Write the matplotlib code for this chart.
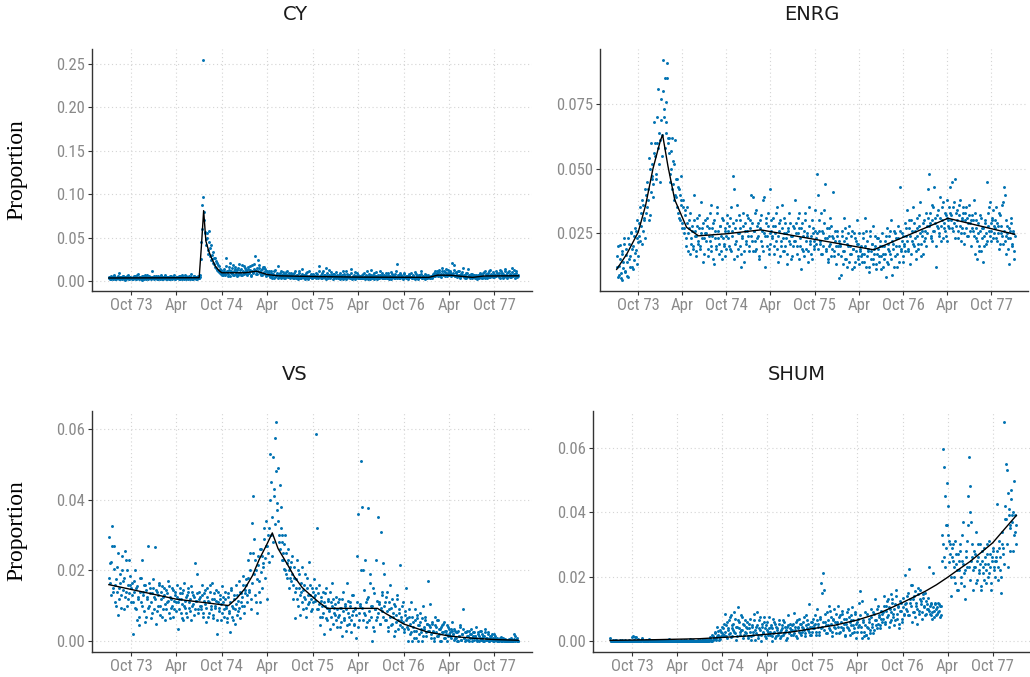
import matplotlib
matplotlib.use('Agg')
import matplotlib.pyplot as plt
from matplotlib import font_manager
import pandas as pd

# readings every 4 days, two interleaved runs (a starts 4 Jul 73, b two days later),
# values in units of 1e-4, one line per quarter
first_day_a = '1973-07-04'
first_day_b = '1973-07-06'
step = '4D'
scale = 1e-4

cy_values_a = [
    42, 28, 55, 31, 18, 67, 39, 25, 48, 33, 90, 22, 41, 36, 58, 27, 15, 46, 38, 72, 29, 51, 34,
    26, 47, 39, 61, 22, 35, 80, 44, 30, 19, 53, 37, 28, 65, 41, 33, 24, 58, 46, 31, 110, 38, 27,
    49, 35, 22, 62, 40, 29, 54, 33, 18, 45, 71, 36, 27, 50, 39, 24, 58, 31, 43, 66, 28, 37, 52,
    34, 57, 25, 41, 73, 30, 46, 21, 38, 62, 44, 29, 51, 36, 85, 27, 40, 55, 33, 48, 26, 59, 37,
    70, 450, 880, 2540, 700, 560, 480, 550, 360, 570, 290, 420, 250, 330, 200, 260, 150, 210, 120, 170, 90, 130, 75,
    95, 140, 70, 260, 110, 85, 165, 60, 120, 90, 180, 75, 135, 100, 55, 150, 88, 125, 70, 190, 105, 80, 145,
    110, 75, 160, 95, 130, 60, 180, 100, 140, 290, 120, 85, 240, 150, 105, 70, 135, 95, 160, 80, 115, 65, 100,
    70, 45, 110, 60, 85, 35, 130, 55, 75, 170, 50, 90, 40, 65, 100, 30, 80, 55, 120, 45, 70, 60, 95,
    50, 80, 30, 115, 45, 65, 25, 90, 55, 40, 135, 60, 35, 75, 50, 100, 28, 62, 45, 85, 38, 70, 55,
    45, 90, 60, 30, 170, 55, 75, 40, 110, 50, 65, 25, 95, 45, 130, 35, 70, 55, 85, 30, 60, 100, 48,
    40, 75, 25, 60, 45, 120, 35, 55, 20, 85, 42, 65, 30, 135, 50, 38, 70, 28, 55, 95, 40, 62, 33,
    55, 30, 80, 45, 25, 65, 110, 40, 58, 22, 75, 48, 35, 90, 42, 60, 28, 70, 38, 120, 45, 32, 65,
    48, 70, 30, 55, 40, 95, 35, 62, 25, 80, 45, 58, 38, 110, 200, 42, 65, 30, 72, 50, 35, 88, 44,
    38, 60, 28, 85, 45, 52, 30, 70, 40, 100, 35, 55, 25, 65, 42, 80, 33, 58, 45, 28, 72, 38, 50,
    42, 35, 60, 48, 85, 55, 110, 70, 95, 60, 130, 75, 50, 120, 85, 65, 100, 140, 58, 90, 72, 115, 80,
    210, 75, 180, 60, 95, 50, 120, 70, 40, 85, 105, 55, 65, 35, 90, 48, 140, 60, 42, 78, 30, 55, 70,
    40, 65, 28, 55, 35, 80, 45, 30, 95, 50, 120, 60, 38, 75, 110, 48, 85, 55, 100, 42, 70, 58, 90,
    65, 95, 40, 110, 55, 80, 45, 120, 70, 35, 100, 60, 85, 50, 150, 75, 130, 40, 90, 60, 55,
]
cy_values_b = [
    36, 52, 24, 45, 30, 61, 20, 40, 33, 57, 26, 48, 37, 19, 63, 31, 44, 28, 53, 35, 23, 47, 39,
    33, 21, 56, 41, 29, 68, 36, 25, 49, 38, 17, 60, 32, 45, 27, 74, 39, 30, 51, 22, 43, 35, 62,
    30, 57, 41, 26, 48, 35, 69, 23, 42, 37, 55, 29, 46, 33, 20, 61, 40, 27, 50, 36, 24, 44, 31,
    45, 26, 60, 38, 22, 50, 35, 68, 29, 43, 33, 55, 24, 47, 39, 28, 62, 36, 21, 52, 41, 30, 46,
    250, 600, 970, 800, 550, 420, 500, 310, 450, 380, 240, 300, 210, 270, 160, 230, 130, 180, 100, 140, 80, 115, 65,
    120, 80, 175, 100, 60, 130, 210, 90, 150, 70, 110, 160, 85, 125, 65, 200, 95, 140, 75, 115, 170, 90, 130,
    85, 140, 100, 170, 65, 120, 95, 200, 125, 80, 150, 110, 185, 90, 130, 75, 160, 100, 140, 60, 120, 90, 110,
    55, 90, 40, 75, 120, 50, 65, 95, 35, 80, 60, 110, 45, 70, 55, 85, 40, 100, 65, 50, 90, 35, 75,
    65, 40, 95, 55, 30, 75, 50, 110, 35, 60, 85, 45, 70, 25, 90, 55, 40, 120, 50, 65, 30, 80, 45,
    55, 35, 80, 45, 120, 60, 30, 95, 50, 70, 40, 150, 55, 35, 75, 45, 100, 60, 28, 85, 50, 40, 70,
    50, 30, 95, 40, 65, 25, 80, 45, 110, 35, 55, 70, 40, 90, 28, 60, 45, 100, 35, 50, 75, 30, 58,
    40, 70, 30, 95, 50, 35, 60, 25, 85, 45, 130, 35, 65, 28, 55, 100, 40, 50, 30, 75, 45, 90, 38,
    35, 58, 90, 40, 75, 28, 50, 100, 45, 65, 30, 85, 52, 40, 70, 35, 95, 48, 60, 25, 80, 42, 55,
    50, 35, 75, 42, 95, 30, 60, 48, 25, 80, 55, 38, 70, 45, 110, 30, 62, 40, 85, 50, 35, 65, 45,
    30, 55, 40, 70, 95, 60, 80, 120, 65, 100, 55, 85, 150, 70, 110, 60, 90, 75, 125, 65, 100, 55, 85,
    90, 130, 55, 100, 75, 60, 110, 45, 80, 65, 150, 50, 70, 40, 95, 55, 75, 35, 60, 85, 45, 70, 50,
    55, 30, 75, 45, 90, 60, 35, 70, 50, 105, 40, 80, 55, 95, 45, 125, 65, 75, 50, 85, 60, 110, 70,
    80, 50, 125, 65, 95, 40, 75, 140, 55, 90, 60, 115, 45, 70, 100, 55, 85, 65, 120, 50, 75,
]

enrg_values_a = [
    160, 80, 125, 205, 95, 70, 180, 140, 210, 105, 165, 85, 230, 150, 120, 255, 190, 110, 240, 175, 260, 130, 215,
    290, 220, 330, 380, 260, 310, 230, 400, 350, 420, 300, 500, 410, 470, 520, 440, 680, 550, 460, 600, 810, 520, 610,
    770, 550, 920, 730, 850, 640, 910, 600, 620, 480, 570, 420, 530, 380, 610, 460, 350, 430, 310, 400, 470, 360, 290,
    380, 250, 340, 230, 290, 180, 270, 330, 210, 260, 190, 300, 240, 160, 280, 220, 320, 200, 250, 270, 140, 230, 300,
    250, 310, 190, 270, 220, 360, 180, 240, 290, 130, 260, 200, 330, 230, 170, 280, 240, 150, 300, 210, 260, 190, 320,
    230, 280, 190, 350, 260, 470, 420, 210, 300, 160, 250, 320, 200, 270, 120, 240, 330, 180, 290, 220, 260, 310, 200,
    300, 400, 220, 390, 260, 180, 340, 230, 290, 150, 270, 320, 200, 380, 250, 120, 310, 240, 280, 190, 420, 210, 260,
    240, 310, 170, 280, 220, 350, 140, 260, 300, 200, 360, 230, 180, 290, 250, 130, 270, 330, 210, 240, 160, 280, 220,
    380, 250, 200, 310, 150, 270, 230, 110, 290, 180, 260, 330, 190, 240, 140, 280, 220, 170, 300, 250, 200, 340, 230,
    480, 400, 260, 210, 330, 170, 250, 290, 440, 190, 230, 140, 270, 200, 310, 160, 240, 410, 180, 220, 130, 260, 200,
    75, 210, 90, 260, 180, 310, 150, 230, 120, 200, 280, 170, 240, 110, 190, 250, 140, 220, 300, 160, 210, 130, 180,
    200, 140, 250, 170, 310, 120, 220, 180, 100, 260, 150, 210, 130, 190, 240, 110, 170, 230, 140, 200, 160, 250, 120,
    150, 220, 80, 270, 190, 130, 240, 170, 300, 90, 210, 260, 160, 230, 120, 280, 200, 430, 180, 250, 140, 210, 290,
    240, 340, 180, 270, 130, 300, 220, 350, 200, 260, 150, 310, 240, 190, 280, 370, 210, 260, 170, 300, 230, 330, 250,
    420, 480, 290, 230, 360, 260, 430, 310, 120, 280, 340, 250, 390, 220, 300, 370, 270, 330, 240, 310, 380, 280, 350,
    430, 300, 450, 260, 370, 460, 280, 340, 230, 320, 380, 250, 300, 350, 210, 330, 270, 310, 240, 360, 290, 200, 320,
    260, 380, 170, 230, 300, 150, 250, 200, 320, 180, 270, 140, 240, 290, 210, 450, 330, 260, 370, 220, 300, 340, 250,
    300, 350, 220, 280, 190, 320, 250, 360, 210, 430, 400, 240, 170, 280, 230, 130, 260, 310, 200, 250, 180,
]
enrg_values_b = [
    120, 200, 90, 150, 75, 170, 115, 230, 100, 190, 140, 80, 210, 160, 250, 120, 200, 145, 270, 185, 230, 300, 160,
    240, 350, 280, 210, 360, 300, 420, 330, 450, 380, 540, 320, 600, 460, 390, 560, 600, 480, 700, 580, 640, 450, 690,
    630, 800, 700, 580, 760, 680, 850, 620, 560, 450, 500, 620, 440, 520, 400, 390, 460, 330, 420, 300, 380, 270, 350,
    270, 320, 200, 350, 250, 300, 170, 230, 280, 200, 400, 260, 180, 240, 310, 210, 270, 190, 370, 230, 290, 170, 250,
    220, 280, 160, 240, 330, 200, 270, 150, 300, 230, 190, 350, 260, 210, 280, 180, 310, 230, 200, 270, 160, 240, 290,
    260, 200, 310, 180, 240, 290, 150, 270, 220, 360, 190, 250, 300, 170, 230, 280, 140, 260, 210, 320, 240, 180, 270,
    240, 290, 180, 260, 220, 330, 190, 280, 240, 160, 300, 220, 260, 180, 390, 240, 290, 200, 330, 170, 250, 300, 230,
    280, 200, 250, 330, 190, 240, 290, 160, 220, 270, 180, 250, 310, 200, 230, 170, 260, 220, 290, 150, 240, 200, 270,
    220, 290, 170, 250, 330, 200, 270, 190, 240, 160, 300, 220, 250, 180, 350, 210, 240, 150, 270, 220, 190, 260, 210,
    250, 190, 300, 220, 170, 260, 200, 340, 230, 180, 270, 150, 240, 210, 280, 190, 230, 160, 260, 200, 240, 170, 220,
    200, 160, 240, 130, 220, 180, 270, 150, 210, 250, 140, 200, 170, 260, 190, 120, 230, 180, 210, 150, 250, 190, 160,
    170, 230, 140, 200, 260, 160, 190, 120, 240, 180, 210, 150, 280, 170, 200, 130, 230, 190, 160, 220, 110, 200, 170,
    200, 170, 240, 140, 210, 180, 260, 150, 220, 190, 120, 250, 200, 170, 230, 140, 260, 190, 220, 160, 240, 200, 180,
    270, 220, 190, 300, 240, 170, 260, 210, 290, 230, 180, 270, 210, 320, 250, 160, 240, 290, 220, 260, 200, 280, 310,
    280, 330, 240, 300, 220, 350, 260, 290, 200, 320, 270, 240, 310, 280, 350, 230, 290, 260, 320, 220, 300, 270, 330,
    320, 270, 350, 290, 230, 330, 300, 260, 360, 280, 220, 310, 270, 330, 250, 300, 350, 240, 290, 320, 260, 300, 270,
    300, 240, 330, 270, 220, 290, 180, 260, 310, 230, 270, 200, 300, 250, 220, 280, 350, 240, 290, 260, 310, 230, 280,
    270, 230, 290, 250, 330, 210, 280, 240, 370, 260, 220, 300, 250, 190, 270, 230, 290, 210, 260, 150, 240,
]

vs_values_a = [
    295, 165, 225, 325, 140, 270, 160, 100, 210, 75, 150, 190, 130, 240, 170, 90, 255, 140, 200, 120, 230, 160, 110,
    130, 20, 170, 95, 150, 60, 120, 45, 180, 110, 230, 140, 85, 160, 70, 125, 270, 100, 150, 65, 135, 175, 90,
    265, 50, 140, 100, 165, 75, 120, 155, 90, 130, 60, 145, 110, 170, 80, 125, 95, 150, 70, 115, 140, 85, 160,
    35, 120, 150, 80, 105, 135, 60, 165, 95, 125, 70, 140, 110, 85, 155, 100, 130, 75, 220, 115, 190, 90, 140,
    125, 90, 160, 70, 135, 105, 55, 150, 115, 80, 140, 100, 165, 65, 120, 95, 145, 20, 110, 85, 130, 60, 155,
    110, 70, 140, 95, 55, 125, 85, 25, 150, 100, 60, 130, 90, 160, 75, 115, 170, 65, 135, 100, 185, 80, 145,
    160, 110, 230, 140, 250, 90, 335, 410, 290, 130, 200, 80, 240, 170, 110, 260, 150, 220, 320, 180, 270, 120, 250,
    320, 530, 450, 240, 520, 430, 575, 620, 370, 490, 280, 440, 380, 300, 230, 275, 200, 250, 180, 230, 150, 210, 170,
    240, 120, 180, 65, 150, 230, 100, 190, 75, 140, 210, 90, 160, 120, 70, 180, 105, 225, 130, 85, 150, 110, 175,
    130, 585, 320, 90, 160, 45, 115, 70, 140, 20, 100, 150, 60, 120, 85, 35, 110, 165, 50, 95, 75, 125, 40,
    70, 120, 40, 95, 15, 140, 60, 100, 30, 165, 80, 50, 110, 25, 75, 130, 45, 90, 10, 240, 360, 60, 105,
    510, 380, 200, 80, 230, 40, 120, 375, 60, 190, 100, 0, 150, 30, 90, 230, 70, 350, 110, 50, 310, 140, 85,
    220, 190, 110, 60, 140, 30, 90, 160, 45, 120, 70, 15, 100, 55, 130, 35, 80, 215, 60, 40, 110, 25, 75,
    150, 40, 0, 70, 20, 110, 0, 55, 30, 90, 10, 65, 0, 45, 80, 25, 0, 100, 35, 60, 15, 50, 170,
    30, 105, 10, 50, 25, 0, 70, 40, 15, 60, 20, 35, 0, 45, 25, 55, 10, 30, 0, 40, 20, 15, 35,
    55, 20, 5, 30, 10, 25, 0, 15, 40, 5, 20, 90, 10, 0, 25, 15, 5, 30, 10, 20, 0, 15, 25,
    15, 40, 5, 20, 0, 10, 30, 5, 15, 0, 25, 10, 5, 20, 0, 10, 15, 5, 0, 20, 10, 5, 0,
    5, 0, 10, 2, 0, 8, 3, 0, 5, 1, 0, 6, 2, 0, 4, 0, 20, 15, 3, 8, 0,
]
vs_values_b = [
    180, 220, 130, 270, 150, 205, 110, 175, 140, 250, 120, 165, 95, 200, 145, 180, 125, 230, 100, 160, 135, 185, 150,
    165, 110, 140, 200, 90, 155, 125, 70, 140, 180, 100, 130, 160, 55, 145, 120, 95, 165, 135, 110, 80, 150, 125,
    120, 145, 85, 130, 160, 100, 140, 70, 125, 150, 105, 90, 135, 115, 155, 65, 120, 100, 145, 90, 130, 110, 125,
    110, 90, 135, 120, 65, 145, 100, 115, 80, 130, 150, 95, 120, 60, 140, 105, 125, 90, 115, 135, 80, 120, 100,
    100, 130, 80, 115, 145, 95, 125, 70, 110, 160, 90, 120, 75, 135, 100, 115, 60, 140, 95, 120, 105, 80, 125,
    90, 120, 100, 65, 135, 80, 110, 145, 70, 95, 120, 50, 105, 130, 85, 95, 140, 110, 125, 160, 100, 135, 175,
    130, 180, 145, 200, 120, 165, 250, 190, 230, 110, 175, 215, 140, 260, 195, 240, 210, 290, 235, 340, 270, 300, 225,
    400, 300, 350, 280, 410, 330, 480, 390, 340, 300, 260, 320, 230, 280, 250, 205, 300, 190, 220, 260, 200, 180, 225,
    190, 160, 210, 140, 175, 120, 200, 150, 130, 165, 110, 145, 125, 190, 95, 150, 130, 110, 160, 120, 90, 140, 125,
    115, 150, 90, 135, 105, 70, 125, 100, 80, 110, 135, 65, 95, 115, 90, 140, 70, 100, 120, 80, 105, 60, 90,
    110, 75, 95, 55, 120, 85, 65, 105, 90, 45, 115, 70, 100, 60, 130, 85, 50, 95, 75, 110, 40, 80, 100,
    200, 95, 60, 145, 75, 110, 55, 125, 85, 165, 70, 100, 40, 135, 90, 60, 115, 80, 105, 50, 95, 130, 70,
    100, 60, 125, 85, 40, 110, 70, 95, 50, 80, 105, 30, 75, 120, 60, 90, 45, 70, 100, 55, 35, 85, 60,
    65, 35, 90, 50, 25, 70, 40, 10, 60, 30, 75, 45, 20, 55, 35, 65, 15, 40, 70, 25, 50, 30, 45,
    40, 20, 55, 30, 10, 45, 25, 60, 15, 35, 0, 40, 25, 50, 10, 30, 20, 45, 15, 35, 25, 10, 30,
    20, 35, 10, 25, 0, 30, 15, 45, 5, 20, 35, 10, 25, 5, 30, 15, 0, 20, 35, 10, 25, 5, 15,
    10, 0, 25, 15, 30, 5, 20, 10, 0, 15, 35, 5, 10, 25, 0, 15, 5, 20, 10, 0, 15, 5, 10,
    0, 5, 3, 12, 0, 4, 0, 7, 2, 0, 5, 0, 3, 10, 0, 2, 6, 0, 4, 0, 2,
]

shum_values_a = [
    10, 2, 0, 3, 1, 0, 4, 2, 0, 1, 3, 0, 2, 1, 0, 5, 2, 0, 1, 3, 0, 2, 12,
    17, 4, 13, 0, 2, 6, 1, 0, 3, 9, 1, 0, 2, 4, 0, 1, 8, 2, 0, 3, 1, 0, 2,
    1, 0, 3, 2, 0, 1, 4, 0, 2, 1, 0, 3, 1, 0, 8, 2, 0, 1, 3, 0, 2, 1, 0,
    2, 0, 1, 3, 0, 2, 1, 0, 4, 1, 0, 2, 6, 0, 1, 3, 0, 2, 1, 0, 3, 1, 0,
    1, 3, 0, 2, 8, 1, 0, 5, 2, 12, 3, 0, 15, 6, 30, 10, 45, 20, 5, 35, 15, 25, 40,
    20, 85, 50, 10, 35, 65, 25, 80, 40, 15, 55, 30, 70, 5, 45, 105, 60, 20, 35, 75, 10, 50, 30,
    25, 60, 10, 40, 70, 15, 50, 30, 85, 5, 45, 90, 20, 65, 35, 0, 55, 25, 75, 40, 10, 60, 30,
    75, 20, 45, 0, 70, 30, 55, 15, 40, 25, 65, 10, 35, 50, 20, 60, 30, 5, 45, 80, 25, 55, 35,
    50, 20, 88, 35, 60, 10, 45, 70, 25, 55, 30, 40, 75, 15, 50, 65, 35, 115, 20, 60, 45, 30, 70,
    40, 80, 20, 100, 55, 30, 70, 180, 45, 210, 160, 60, 25, 90, 50, 110, 35, 75, 15, 65, 100, 40, 85,
    60, 110, 25, 80, 45, 95, 35, 70, 15, 55, 90, 40, 75, 20, 65, 105, 50, 30, 85, 10, 60, 45, 120,
    155, 30, 125, 60, 15, 90, 20, 45, 10, 70, 35, 100, 55, 25, 85, 130, 65, 40, 110, 75, 50, 95, 60,
    90, 140, 55, 110, 75, 130, 45, 100, 145, 65, 120, 85, 50, 115, 160, 70, 105, 40, 125, 95, 60, 135, 80,
    205, 100, 140, 80, 225, 120, 175, 60, 130, 90, 155, 110, 55, 145, 95, 160, 125, 70, 135, 105, 150, 85, 115,
    100, 230, 85, 115, 70, 210, 95, 120, 80, 105, 90, 115, 75, 110, 330, 595, 540, 450, 360, 490, 420, 310, 270,
    140, 290, 250, 200, 310, 240, 160, 270, 220, 300, 180, 250, 370, 210, 130, 280, 230, 450, 570, 480, 400, 370, 260,
    160, 280, 230, 340, 190, 260, 220, 300, 170, 250, 210, 290, 240, 180, 270, 200, 310, 230, 160, 260, 280, 220, 250,
    250, 425, 190, 290, 220, 150, 300, 270, 680, 380, 550, 530, 230, 410, 360, 470, 390, 280, 495, 340, 300,
]
shum_values_b = [
    1, 0, 2, 0, 1, 3, 0, 1, 2, 0, 1, 0, 3, 1, 0, 2, 0, 1, 0, 2, 1, 0, 1,
    2, 1, 0, 12, 1, 0, 2, 1, 0, 3, 0, 1, 2, 0, 1, 0, 3, 1, 0, 2, 0, 1, 0,
    0, 2, 1, 0, 3, 0, 1, 2, 0, 1, 0, 2, 0, 1, 3, 0, 1, 0, 2, 1, 0, 1, 2,
    1, 0, 2, 1, 0, 3, 0, 1, 0, 2, 1, 0, 1, 3, 0, 1, 2, 0, 1, 0, 2, 0, 4,
    0, 1, 3, 0, 2, 1, 5, 0, 3, 8, 1, 20, 4, 10, 25, 5, 18, 32, 12, 8, 28, 45, 20,
    55, 30, 15, 60, 40, 22, 75, 12, 50, 35, 90, 25, 45, 15, 65, 40, 28, 80, 35, 55, 20, 65, 45,
    40, 15, 55, 30, 5, 45, 20, 65, 35, 25, 50, 10, 40, 75, 20, 45, 30, 60, 15, 50, 35, 20, 40,
    30, 50, 15, 40, 25, 60, 10, 45, 35, 20, 55, 30, 15, 40, 65, 25, 45, 35, 10, 50, 30, 40, 20,
    35, 55, 25, 45, 15, 65, 40, 30, 55, 20, 45, 60, 35, 25, 80, 40, 55, 30, 45, 20, 60, 40, 50,
    55, 30, 65, 45, 20, 75, 40, 150, 60, 35, 85, 50, 25, 65, 40, 95, 55, 30, 70, 45, 60, 25, 55,
    45, 75, 30, 60, 85, 40, 55, 20, 70, 45, 100, 35, 60, 50, 80, 25, 65, 40, 90, 55, 30, 70, 50,
    80, 45, 10, 65, 30, 50, 20, 85, 40, 60, 25, 75, 45, 90, 35, 65, 50, 100, 55, 80, 40, 70, 85,
    70, 110, 60, 95, 125, 80, 105, 60, 90, 130, 75, 100, 65, 140, 85, 110, 55, 95, 120, 70, 105, 85, 115,
    120, 95, 150, 80, 130, 110, 175, 90, 140, 75, 120, 100, 165, 85, 130, 115, 90, 145, 110, 80, 125, 100, 135,
    95, 110, 80, 120, 90, 105, 75, 115, 100, 85, 120, 95, 110, 80, 250, 300, 260, 230, 290, 360, 330, 245, 300,
    200, 260, 300, 230, 180, 270, 220, 160, 250, 280, 200, 330, 240, 170, 220, 260, 310, 360, 230, 190, 250, 300, 220,
    230, 270, 180, 250, 300, 210, 240, 160, 280, 230, 190, 260, 220, 300, 240, 210, 270, 180, 250, 290, 230, 200, 260,
    280, 230, 310, 260, 200, 340, 290, 240, 420, 380, 300, 460, 390, 350, 280, 440, 370, 400, 330, 390, 360,
]

# fitted trend lines (knots, same 1e-4 units)
cy_trend_dates = ['1973-07-04', '1974-07-02', '1974-07-11', '1974-07-20', '1974-07-29', '1974-08-10',
                  '1974-08-20', '1974-09-05', '1974-09-20', '1974-10-01', '1975-01-01', '1975-02-18',
                  '1975-04-01', '1975-05-15', '1975-10-01', '1976-04-01', '1977-01-10', '1977-02-15',
                  '1977-04-10', '1977-07-05', '1977-08-20', '1978-01-05']
cy_trend = [35, 38, 400, 810, 460, 340, 270, 170, 120, 95, 95, 113,
            75, 60, 52, 45, 42, 68, 66, 42, 58, 60]

enrg_trend_dates = ['1973-07-04', '1973-08-15', '1973-10-01', '1973-11-01', '1973-12-01', '1974-01-01',
                    '1974-01-10', '1974-02-01', '1974-03-01', '1974-04-19', '1974-06-07', '1974-10-01',
                    '1975-02-20', '1975-09-27', '1976-06-01', '1977-04-04', '1978-01-05']
enrg_trend = [110, 170, 254, 360, 500, 610, 631, 510, 380, 273, 240, 248,
              263, 227, 186, 308, 246]

vs_trend_dates = ['1973-07-04', '1974-04-01', '1974-10-28', '1974-12-01', '1975-01-01', '1975-02-01',
                  '1975-03-01', '1975-04-01', '1975-04-22', '1975-05-15', '1975-06-21', '1975-07-20',
                  '1975-08-20', '1975-09-20', '1975-10-20', '1975-11-28', '1976-06-18', '1976-07-20',
                  '1976-10-01', '1977-01-01', '1977-04-01', '1977-07-01', '1977-10-01', '1978-01-05']
vs_trend = [160, 119, 101, 122, 148, 185, 232, 275, 306, 262, 218, 182,
            152, 132, 114, 93, 93, 79, 49, 27, 15, 9, 5, 3]

shum_trend_dates = ['1973-07-04', '1974-01-01', '1974-07-01', '1975-01-01', '1975-07-01', '1976-01-01',
                    '1976-04-01', '1976-07-01', '1976-10-01', '1977-01-01', '1977-02-15', '1977-04-01',
                    '1977-05-15', '1977-07-01', '1977-08-15', '1977-10-01', '1977-11-15', '1978-01-05']
shum_trend = [3, 5, 8, 16, 28, 50, 66, 88, 120, 155, 175, 198,
              222, 247, 275, 305, 345, 390]

tick_dates = ['1973-10-01', '1974-04-01', '1974-10-01', '1975-04-01', '1975-10-01',
              '1976-04-01', '1976-10-01', '1977-04-01', '1977-10-01']
tick_labels = ['Oct 73', 'Apr', 'Oct 74', 'Apr', 'Oct 75', 'Apr', 'Oct 76', 'Apr', 'Oct 77']

cy_yticks = [0.0, 0.05, 0.10, 0.15, 0.20, 0.25]
enrg_yticks = [0.025, 0.050, 0.075]
vs_yticks = [0.0, 0.02, 0.04, 0.06]
shum_yticks = [0.0, 0.02, 0.04, 0.06]

# condensed face for the tick labels if one is installed
installed = {f.name for f in font_manager.fontManager.ttflist}
narrow = next((n for n in ['Liberation Sans Narrow', 'Arial Narrow', 'Roboto Condensed',
                           'Open Sans Condensed', 'Liberation Sans'] if n in installed), 'DejaVu Sans')

W, H = 1030, 677
fig = plt.figure(figsize=(W / 100, H / 100), dpi=100)


def px_box(left, top, right, bottom):
    return [left / W, 1 - bottom / H, (right - left) / W, (bottom - top) / H]


panels = [
    ('CY', cy_values_a, cy_values_b, cy_trend_dates, cy_trend, cy_yticks, '%.2f',
     px_box(91.7, 49.3, 532, 290.7), (295, 14)),
    ('ENRG', enrg_values_a, enrg_values_b, enrg_trend_dates, enrg_trend, enrg_yticks, '%.3f',
     px_box(600, 49.3, 1028, 290.7), (812, 14)),
    ('VS', vs_values_a, vs_values_b, vs_trend_dates, vs_trend, vs_yticks, '%.2f',
     px_box(91.7, 410.7, 532, 652.3), (295, 374)),
    ('SHUM', shum_values_a, shum_values_b, shum_trend_dates, shum_trend, shum_yticks, '%.2f',
     px_box(593, 410.7, 1030, 652.3), (797, 374)),
]

for name, vals_a, vals_b, tdates, tvals, yticks, fmt, box, title_xy in panels:
    ax = fig.add_axes(box)
    x = list(pd.date_range(first_day_a, periods=len(vals_a), freq=step)) + \
        list(pd.date_range(first_day_b, periods=len(vals_b), freq=step))
    y = [v * scale for v in vals_a + vals_b]
    ax.scatter(x, y, s=4.5, color='#0072B2', linewidths=0, zorder=2)
    ax.plot(pd.to_datetime(tdates), [v * scale for v in tvals], color='black', lw=1.0, zorder=3)

    lo, hi = min(y), max(y)
    pad = 0.05 * (hi - lo)
    ax.set_ylim(lo - pad, hi + pad)
    ax.set_xlim(pd.Timestamp('1973-04-26'), pd.Timestamp('1978-03-01'))

    ax.set_xticks(pd.to_datetime(tick_dates))
    ax.set_xticklabels(tick_labels)
    ax.set_yticks(yticks)
    ax.set_yticklabels([fmt % t for t in yticks])
    for lab in ax.get_xticklabels() + ax.get_yticklabels():
        lab.set_fontfamily(narrow)
    ax.tick_params(length=3, width=0.8, color='#333333', labelcolor='#8a8a8a',
                   labelsize=12, pad=2)

    ax.grid(True, color='#d4d4d4', linestyle=(0, (1, 2.5)), linewidth=0.8)
    ax.set_axisbelow(True)
    for side in ['top', 'right']:
        ax.spines[side].set_visible(False)
    for side in ['left', 'bottom']:
        ax.spines[side].set_color('#333333')
        ax.spines[side].set_linewidth(1.0)

    fig.text(title_xy[0] / W, 1 - title_xy[1] / H, name, ha='center', va='center',
             fontsize=14, family='DejaVu Sans', color='#1a1a1a')

for yc in [170, 531]:
    fig.text(17 / W, 1 - yc / H, 'Proportion', rotation=90, ha='center', va='center',
             fontsize=17, family='Liberation Serif')

fig.savefig('out.png', dpi=100)
